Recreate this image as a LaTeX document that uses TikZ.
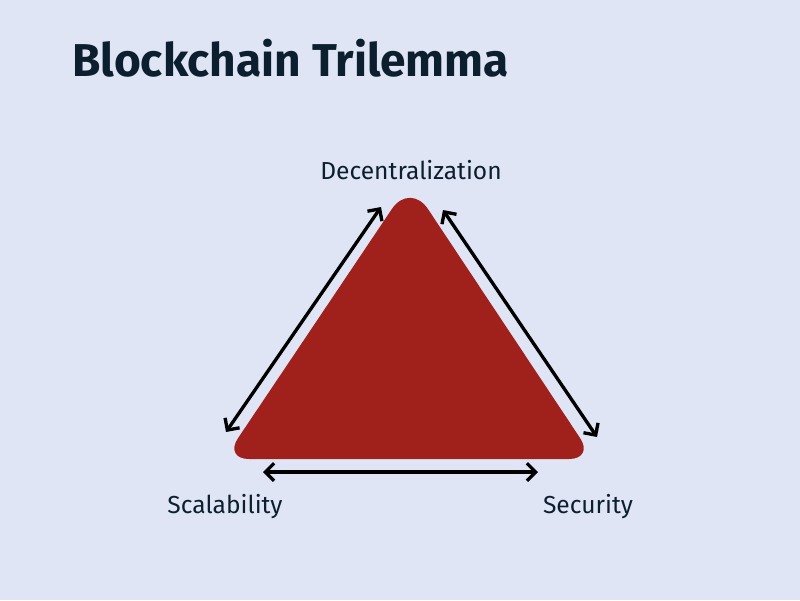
\documentclass[tikz,border=0pt]{standalone}
\usepackage{fontspec}
\setmainfont{Fira Sans}
\usetikzlibrary{arrows.meta}
\definecolor{bgblue}{HTML}{DFE5F5}
\definecolor{trired}{HTML}{A0201C}
\definecolor{inkdark}{HTML}{0C1F2E}
\tikzset{
  corner/.style={anchor=base, text=inkdark, font=\fontsize{14}{17}\selectfont},
  link/.style={line width=1.9pt, {Straight Barb[length=5pt,width=10pt]}-{Straight Barb[length=5pt,width=10pt]}},
}

\begin{document}
\begin{tikzpicture}[x=0.02cm, y=-0.02cm]
  \fill[bgblue] (0,0) rectangle (800,600);
  \node[anchor=base west, text=inkdark, font=\bfseries\fontsize{26.2}{30}\selectfont] (title) at (66,76) {Blockchain Trilemma};

  % the triangle
  \fill[trired] (410,459) [rounded corners=0.5cm] -- (224,459) [rounded corners=0.65cm] -- (410,182) [rounded corners=0.5cm] -- (594,459) -- cycle;

  % corner labels
  \node[corner] (dec) at (411,179) {Decentralization};
  \node[corner] (sca) at (225,513) {Scalability};
  \node[corner] (sec) at (588,513) {Security};

  % arrow ends
  \coordinate (lb) at (226,432);
  \coordinate (lt) at (381,207);
  \coordinate (rt) at (443,210);
  \coordinate (rb) at (597,437);
  \coordinate (bl) at (263,472);
  \coordinate (br) at (538,472);

  \draw[link] (lb) -- (lt);
  \draw[link] (rt) -- (rb);
  \draw[link] (bl) -- (br);
\end{tikzpicture}
\end{document}
